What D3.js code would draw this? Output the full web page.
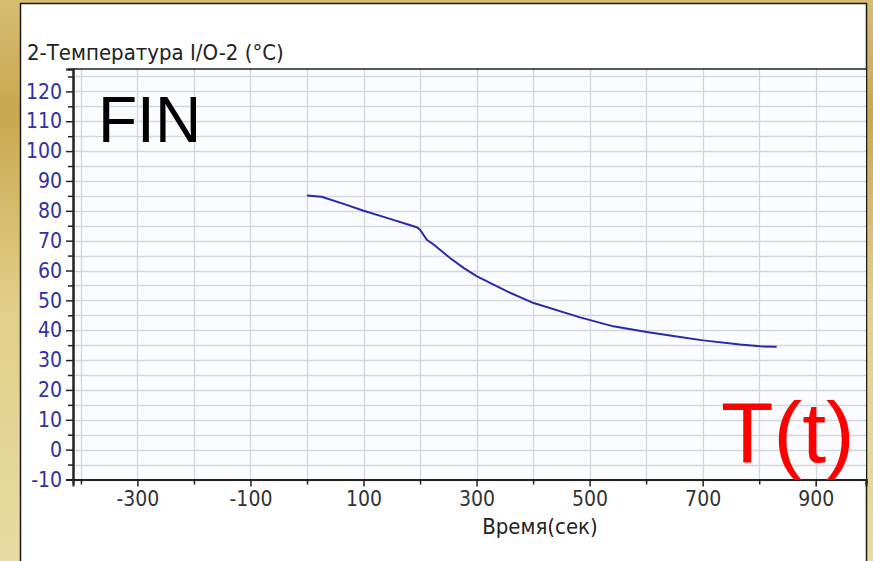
<!DOCTYPE html>
<html>
<head>
<meta charset="utf-8">
<script src="https://cdn.jsdelivr.net/npm/d3@7"></script>
<style>
  html, body { margin: 0; padding: 0; background: #d8c27c; }
  svg { display: block; }
</style>
</head>
<body>
<div id="chart"></div>
<script>
// readings of sensor 2 (time in s, temperature in °C)
const times = [0, 26, 70, 100, 147, 194, 200, 212, 224, 253, 277, 300, 354, 401, 483, 542, 601, 660, 701, 766, 802, 831];
const temps = [85.1, 84.7, 82, 80, 77.3, 74.5, 73.7, 70.3, 68.7, 64.2, 60.9, 58.1, 53, 49.1, 44.3, 41.3, 39.4, 37.7, 36.6, 35.2, 34.6, 34.5];

const yTicks = [-10, 0, 10, 20, 30, 40, 50, 60, 70, 80, 90, 100, 110, 120];
const yMinor = [-5, 5, 15, 25, 35, 45, 55, 65, 75, 85, 95, 105, 115, 125];
const xTicks = [-300, -100, 100, 300, 500, 700, 900];
const xMinor = [-400, -200, 0, 200, 400, 600, 800];

const W = 873, H = 561;
const font = "'DejaVu Sans Condensed', 'DejaVu Sans', 'Liberation Sans', sans-serif";

const svg = d3.select("#chart").append("svg")
    .attr("width", W)
    .attr("height", H);

// gold frame
const grad = svg.append("defs").append("linearGradient")
    .attr("id", "gold")
    .attr("x1", 0).attr("y1", 0).attr("x2", 0).attr("y2", 1);
grad.append("stop").attr("offset", "0%").attr("stop-color", "#d6bd72");
grad.append("stop").attr("offset", "20%").attr("stop-color", "#c8a850");
grad.append("stop").attr("offset", "55%").attr("stop-color", "#e2cf88");
grad.append("stop").attr("offset", "100%").attr("stop-color", "#e8daa2");

svg.append("rect")
    .attr("width", W).attr("height", H)
    .attr("fill", "url(#gold)");

svg.append("rect")
    .attr("x", 20.5).attr("y", 3.5)
    .attr("width", 846).attr("height", H + 10)
    .attr("fill", "#fff")
    .attr("stroke", "#1a1a1a")
    .attr("stroke-width", 1.5);

const x = d3.scaleLinear().domain([-414, 989]).range([73, 866]);
const y = d3.scaleLinear().domain([-10, 127.5]).range([479.5, 69]);

// plot background
svg.append("rect")
    .attr("x", x.range()[0]).attr("y", y.range()[1])
    .attr("width", x.range()[1] - x.range()[0])
    .attr("height", y.range()[0] - y.range()[1])
    .attr("fill", "#fbfcff");

// grid
const grid = svg.append("g").attr("stroke", "#d2d7de").attr("stroke-width", 1.3);
grid.selectAll(".hg")
    .data(yTicks.concat(yMinor))
    .join("line")
    .attr("x1", x.range()[0]).attr("x2", x.range()[1])
    .attr("y1", d => Math.round(y(d)) + 0.5)
    .attr("y2", d => Math.round(y(d)) + 0.5);
grid.selectAll(".vg")
    .data(xTicks.concat(xMinor))
    .join("line")
    .attr("y1", y.range()[1]).attr("y2", y.range()[0])
    .attr("x1", d => Math.round(x(d)) + 0.5)
    .attr("x2", d => Math.round(x(d)) + 0.5);

const plain = d => String(d);

// axes
const yAxis = svg.append("g")
    .attr("transform", `translate(${x.range()[0]},0)`)
    .call(d3.axisLeft(y).tickValues(yTicks).tickSize(7).tickPadding(4).tickFormat(plain));
yAxis.append("g")
    .call(d3.axisLeft(y).tickValues(yMinor).tickSize(5).tickFormat(""));
yAxis.selectAll(".domain").attr("stroke", "#222").attr("stroke-width", 2);
yAxis.selectAll("line").attr("stroke", "#222").attr("stroke-width", 1.5);
yAxis.selectAll("text")
    .attr("fill", "#3131a0")
    .style("font-family", font)
    .style("font-size", "21px");

const xAxis = svg.append("g")
    .attr("transform", `translate(0,${y.range()[0]})`)
    .call(d3.axisBottom(x).tickValues(xTicks).tickSize(7).tickPadding(5).tickFormat(plain));
xAxis.append("g")
    .call(d3.axisBottom(x).tickValues(xMinor).tickSize(5).tickFormat(""));
xAxis.selectAll(".domain").attr("stroke", "#222").attr("stroke-width", 2);
xAxis.selectAll("line").attr("stroke", "#222").attr("stroke-width", 1.5);
xAxis.selectAll("text")
    .attr("fill", "#333")
    .style("font-family", font)
    .style("font-size", "21px");

// top frame of plot
svg.append("line")
    .attr("x1", x.range()[0]).attr("x2", x.range()[1])
    .attr("y1", y.range()[1]).attr("y2", y.range()[1])
    .attr("stroke", "#222").attr("stroke-width", 1.5);

// curve
svg.append("path")
    .datum(times.map((t, i) => [t, temps[i]]))
    .attr("fill", "none")
    .attr("stroke", "#2a2aa8")
    .attr("stroke-width", 2)
    .attr("d", d3.line().x(d => x(d[0])).y(d => y(d[1])));

// texts
svg.append("text")
    .attr("x", 27).attr("y", 60)
    .attr("fill", "#222")
    .style("font-family", font)
    .style("font-size", "22px")
    .text("2-Температура I/O-2 (°C)");

svg.append("text")
    .attr("x", 540).attr("y", 534)
    .attr("text-anchor", "middle")
    .attr("fill", "#222")
    .style("font-family", font)
    .style("font-size", "22px")
    .text("Время(сек)");

svg.append("text")
    .attr("x", 98).attr("y", 142)
    .attr("fill", "#000")
    .style("font-family", "'Liberation Sans', Arial, sans-serif")
    .style("font-size", "64px")
    .text("FIN");

svg.append("text")
    .attr("x", 721).attr("y", 462)
    .attr("fill", "#ff0000")
    .style("font-family", "'Liberation Sans', Arial, sans-serif")
    .style("font-size", "86px")
    .text("T(t)");
</script>
</body>
</html>
